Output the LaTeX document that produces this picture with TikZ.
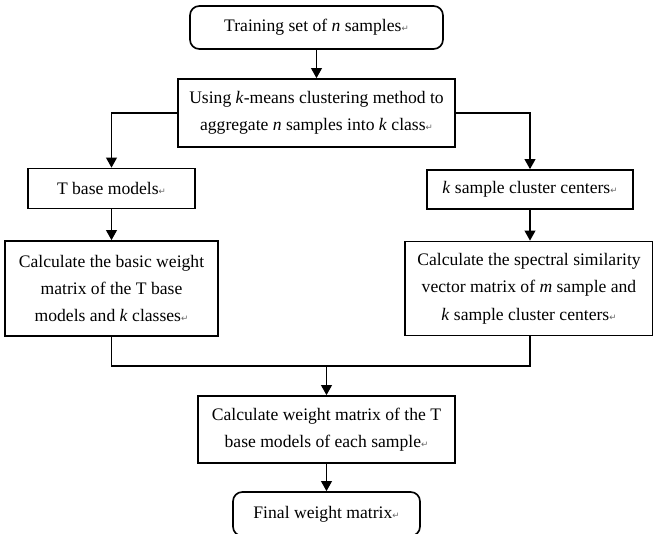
\documentclass[tikz,border=0pt]{standalone}
\usepackage{fontspec}
\setmainfont{Liberation Serif}
\newfontfamily\retfont{DejaVu Sans}
\usetikzlibrary{arrows.meta}
\newlength{\pxu}
\setlength{\pxu}{0.75pt}
\newcommand{\ret}{{\retfont\fontsize{6.5}{6.5}\selectfont\color{black!60}↵}}
\begin{document}
\begin{tikzpicture}[x=\pxu, y=-\pxu, line width=1.25pt,
  box/.style={draw, align=center, inner sep=0pt, font=\fontsize{13.2}{20.6}\selectfont},
  rbox/.style={box, rounded corners=7pt},
  arr/.style={-{Triangle[width=8pt,length=7.5pt]}}]
\useasboundingbox (0,0) rectangle (653,533);
\node[rbox, minimum width=253\pxu, minimum height=43\pxu] (train) at (316.5,27.5) {Training set of \textit{n} samples\ret};
\node[box, minimum width=277\pxu, minimum height=68\pxu] (kmeans) at (316.5,113) {Using \textit{k}-means clustering method to\\ aggregate \textit{n} samples into \textit{k} class\ret};
\node[box, minimum width=167\pxu, minimum height=40\pxu] (tbase) at (111.5,188.5) {T base models\ret};
\node[box, minimum width=206\pxu, minimum height=39\pxu] (kcent) at (530,189.5) {\textit{k} sample cluster centers\ret};
\node[box, minimum width=213\pxu, minimum height=95\pxu] (basicw) at (111.5,288.5) {Calculate the basic weight\\ matrix of the T base\\ models and \textit{k} classes\ret};
\node[box, minimum width=248\pxu, minimum height=94\pxu] (spec) at (529,288.5) {Calculate the spectral similarity\\ vector matrix of \textit{m} sample and\\ \textit{k} sample cluster centers\ret};
\node[box, minimum width=257\pxu, minimum height=67\pxu] (weight) at (326.5,429.5) {Calculate weight matrix of the T\\ base models of each sample\ret};
\node[rbox, minimum width=187\pxu, minimum height=44\pxu] (final) at (326.5,514) {Final weight matrix\ret};
\coordinate (join) at (326.5,366);

\draw[arr] (train) -- (kmeans);
\draw[arr] (kmeans.west) -| (tbase.north);
\draw[arr] (kmeans.east) -| (kcent.north);
\draw[arr] (tbase) -- (basicw);
\draw[arr] (kcent.south) -- (kcent.south |- spec.north);
\draw (basicw.south) |- (join) -| (kcent.south |- spec.south);
\draw[arr] (join) -- (weight.north);
\draw[arr] (weight) -- (final);
\end{tikzpicture}
\end{document}
